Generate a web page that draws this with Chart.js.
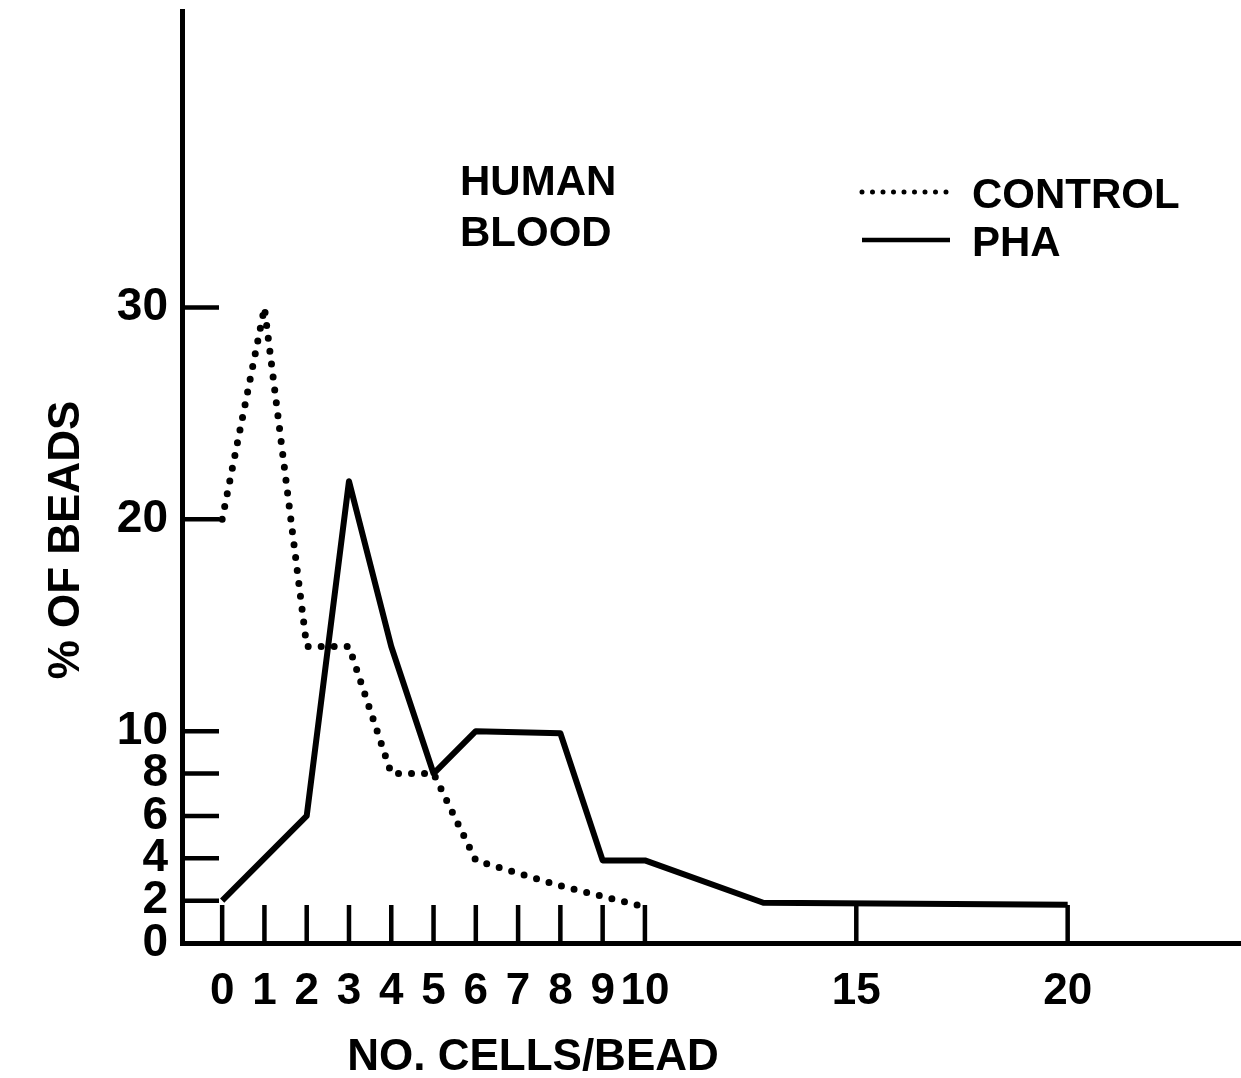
<!DOCTYPE html>
<html>
<head>
<meta charset="utf-8">
<title>Human blood - cells per bead</title>
<script src="https://cdn.jsdelivr.net/npm/chart.js@4.4.1/dist/chart.umd.min.js"></script>
<style>
  html, body { margin: 0; padding: 0; background: #fff; }
  canvas { display: block; }
</style>
</head>
<body>
<canvas id="beads-chart" width="1241" height="1078"></canvas>
<script>
// % of beads carrying a given number of cells
const controlCells = [0, 1, 2, 3, 4, 5, 6, 7, 8, 9, 10];
const controlPct   = [20, 30, 14, 14, 8, 8, 3.9, 3.3, 2.7, 2.2, 1.7];
const phaCells = [0, 2, 3, 4, 5, 6, 8, 9, 10, 12.8, 20];
const phaPct   = [2, 6, 21.8, 14, 8, 10, 9.9, 3.9, 3.9, 1.9, 1.8];

const xTicks = [0, 1, 2, 3, 4, 5, 6, 7, 8, 9, 10, 15, 20];
const yTicks = [0, 2, 4, 6, 8, 10, 20, 30];
const seriesNames = ['CONTROL', 'PHA'];

const family = '"Liberation Sans", Arial, Helvetica, sans-serif';
const toPoints = (xs, ys) => xs.map((x, i) => ({ x: x, y: ys[i] }));

// short tick marks pointing into the plot, plus the free text and the key
const annotations = {
    id: 'annotations',
    afterDatasetsDraw(chart) {
        const { ctx, chartArea, scales: { x, y } } = chart;
        ctx.save();
        ctx.strokeStyle = '#000';
        ctx.lineWidth = 4.5;
        ctx.beginPath();
        yTicks.filter(v => v > 0).forEach(v => {
            const py = y.getPixelForValue(v);
            ctx.moveTo(chartArea.left, py);
            ctx.lineTo(chartArea.left + 37, py);
        });
        xTicks.forEach(v => {
            const px = x.getPixelForValue(v);
            ctx.moveTo(px, chartArea.bottom);
            ctx.lineTo(px, chartArea.bottom - 38);
        });
        ctx.stroke();

        ctx.fillStyle = '#000';
        ctx.font = 'bold 42px ' + family;
        ctx.textAlign = 'left';
        ctx.textBaseline = 'alphabetic';
        ctx.fillText('HUMAN', 460, 195);
        ctx.fillText('BLOOD', 460, 246);

        // key
        const keyRows = [192, 240];
        chart.data.datasets.forEach((ds, i) => {
            const dotted = ds.borderDash.length > 0;
            ctx.beginPath();
            ctx.lineWidth = dotted ? 5 : 4.5;
            ctx.lineCap = dotted ? 'round' : 'butt';
            ctx.setLineDash(dotted ? [0, 10.5] : []);
            ctx.moveTo(862, keyRows[i]);
            ctx.lineTo(950, keyRows[i]);
            ctx.stroke();
            ctx.setLineDash([]);
            ctx.fillText(ds.label, 972, keyRows[i] + 16);
        });

        // axis titles
        ctx.font = 'bold 44px ' + family;
        ctx.textAlign = 'center';
        ctx.fillText('NO. CELLS/BEAD', 533, 1070);
        ctx.translate(67, 540);
        ctx.rotate(-Math.PI / 2);
        ctx.textBaseline = 'middle';
        ctx.fillText('% OF BEADS', 0, 0);
        ctx.restore();
    }
};

new Chart(document.getElementById('beads-chart'), {
    type: 'line',
    data: {
        datasets: [{
            label: seriesNames[0],
            data: toPoints(controlCells, controlPct),
            borderColor: '#000',
            borderWidth: 7,
            borderDash: [0, 13],
            borderCapStyle: 'round',
            pointRadius: 0,
            tension: 0,
            fill: false
        }, {
            label: seriesNames[1],
            data: toPoints(phaCells, phaPct),
            borderColor: '#000',
            borderWidth: 6,
            borderDash: [],
            borderJoinStyle: 'round',
            pointRadius: 0,
            tension: 0,
            fill: false
        }]
    },
    options: {
        responsive: false,
        animation: false,
        devicePixelRatio: 1,
        layout: { padding: { top: 11, left: 0, right: 0, bottom: 0 } },
        plugins: {
            legend: { display: false },
            title: { display: false },
            tooltip: { enabled: false }
        },
        scales: {
            x: {
                type: 'linear',
                min: -0.95,
                max: 24.1,
                afterBuildTicks: s => { s.ticks = xTicks.map(v => ({ value: v })); },
                afterFit: s => { s.height = 135; s.paddingLeft = 0; s.paddingRight = 0; },
                grid: { drawOnChartArea: false, drawTicks: false },
                border: { display: true, color: '#000', width: 5 },
                ticks: {
                    autoSkip: false,
                    maxRotation: 0,
                    minRotation: 0,
                    padding: 27,
                    color: '#000',
                    font: { family: family, size: 44, weight: 'bold', lineHeight: 1 }
                }
            },
            y: {
                type: 'linear',
                min: 0,
                max: 44,
                afterBuildTicks: s => { s.ticks = yTicks.map(v => ({ value: v })); },
                afterFit: s => { s.width = 182; s.paddingTop = 0; s.paddingBottom = 0; },
                grid: { drawOnChartArea: false, drawTicks: false },
                border: { display: true, color: '#000', width: 5 },
                ticks: {
                    autoSkip: false,
                    padding: 14,
                    color: '#000',
                    font: { family: family, size: 46, weight: 'bold', lineHeight: 1 }
                }
            }
        }
    },
    plugins: [annotations]
});
</script>
</body>
</html>
